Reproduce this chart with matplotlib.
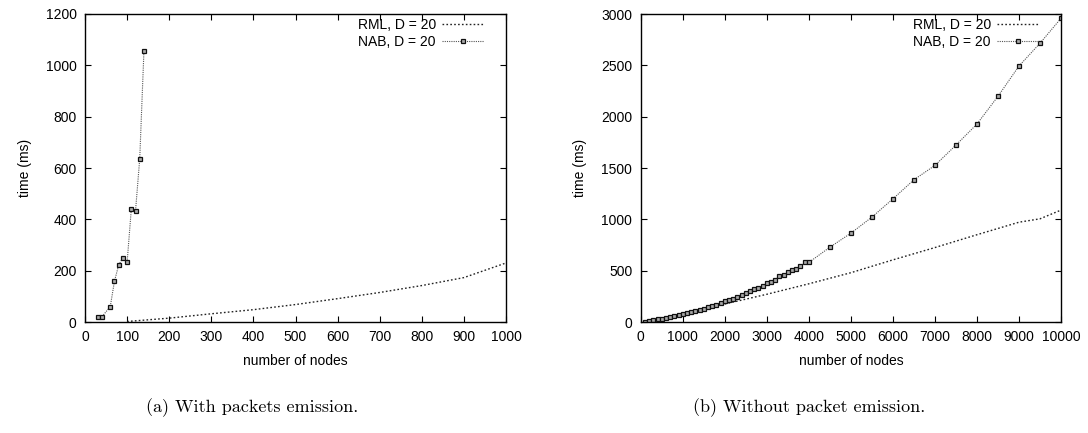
import matplotlib.pyplot as plt
import matplotlib.ticker as mticker

plt.rcParams['font.family'] = ['Liberation Sans', 'DejaVu Sans']

# (a) with packets emission
rml_a_x = [100, 200, 300, 400, 500, 600, 700, 800, 900, 1000]
rml_a_y = [2, 15, 32, 48, 68, 91, 115, 142, 173, 230]
nab_a_x = [30, 40, 60, 70, 80, 90, 100, 110, 120, 130, 140]
nab_a_y = [20, 20, 60, 159, 222, 251, 232, 440, 433, 636, 1056]

# (b) without packet emission
rml_b_x = [100, 1000, 2000, 3000, 4000, 5000, 6000, 7000, 8000, 9000, 9500, 10000]
rml_b_y = [2, 78, 175, 270, 372, 480, 605, 725, 850, 972, 1005, 1090]
nab_b_x = [100, 200, 300, 400, 500, 600, 700, 800, 900, 1000,
           1100, 1200, 1300, 1400, 1500, 1600, 1700, 1800, 1900, 2000,
           2100, 2200, 2300, 2400, 2500, 2600, 2700, 2800, 2900, 3000,
           3100, 3200, 3300, 3400, 3500, 3600, 3700, 3800, 3900, 4000,
           4500, 5000, 5500, 6000, 6500, 7000, 7500, 8000, 8500, 9000, 9500, 10000]
nab_b_y = [3, 10, 18, 25, 33, 42, 50, 58, 68, 78,
           88, 98, 110, 120, 130, 145, 155, 170, 185, 205,
           215, 228, 242, 265, 285, 300, 318, 335, 348, 378,
           392, 408, 448, 458, 488, 503, 518, 543, 580, 580,
           728, 865, 1021, 1199, 1385, 1525, 1723, 1928, 2198, 2493, 2715, 2958]

fig = plt.figure(figsize=(10.88, 4.33), dpi=100)
ax1 = fig.add_axes([85/1088, 111/433, 421/1088, 308/433])
ax2 = fig.add_axes([640.7/1088, 111/433, 420.3/1088, 308/433])


def style(ax, xmax, xstep, ymax, ystep):
    ax.set_xlim(0, xmax)
    ax.set_ylim(0, ymax)
    ax.xaxis.set_major_locator(mticker.MultipleLocator(xstep))
    ax.yaxis.set_major_locator(mticker.MultipleLocator(ystep))
    ax.tick_params(direction='in', top=True, right=True, length=4.5, width=0.8,
                   labelsize=10, pad=6)
    for s in ax.spines.values():
        s.set_linewidth(1.0)
    ax.set_xlabel('number of nodes', fontsize=10, labelpad=7)
    ax.set_ylabel('time (ms)', fontsize=10, labelpad=10)


def draw(ax, rx, ry, nx, ny):
    ax.plot(rx, ry, linestyle=(0, (1.2, 1.6)), color='#222222', lw=1.0,
            label='RML, D = 20')
    ax.plot(nx, ny, linestyle=(0, (1, 1)), color='#555555', lw=0.8,
            marker='s', markersize=3.2, markerfacecolor='#aaaaaa',
            markeredgecolor='#111111', markeredgewidth=0.9,
            label='NAB, D = 20')
    ax.legend(loc='upper right', bbox_to_anchor=(1 - 18/420, 1.0),
              frameon=False, markerfirst=False, fontsize=10,
              handlelength=3.0, handletextpad=0.45, labelspacing=0.2,
              borderaxespad=0.1, borderpad=0.2, numpoints=1)


draw(ax1, rml_a_x, rml_a_y, nab_a_x, nab_a_y)
style(ax1, 1000, 100, 1200, 200)
draw(ax2, rml_b_x, rml_b_y, nab_b_x, nab_b_y)
style(ax2, 10000, 1000, 3000, 500)

fig.text(252/1088, 1 - 408/433, '(a) With packets emission.', ha='center', va='center',
         fontsize=13, family='cmr10')
fig.text(809/1088, 1 - 408/433, '(b) Without packet emission.', ha='center', va='center',
         fontsize=13, family='cmr10')

fig.savefig('out.png', dpi=100)
